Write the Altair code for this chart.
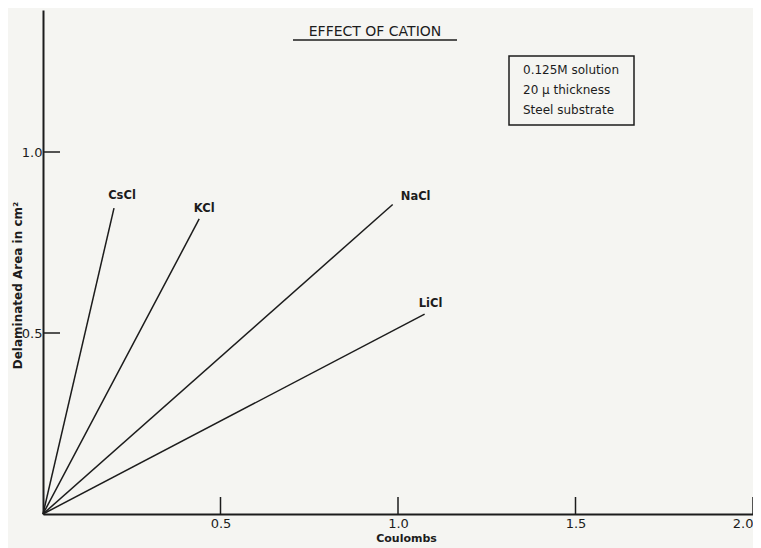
import altair as alt
import pandas as pd

# ---- data ----
salts = ["CsCl", "KCl", "NaCl", "LiCl"]
coulombs_end = [0.20, 0.44, 0.985, 1.075]
area_end = [0.845, 0.815, 0.855, 0.552]
label_dx = [8, 5, 23, 6]      # pixel offsets of the labels from the line ends
label_dy = [-12, -10, -7, -10]

x_ticks = [0.5, 1.0, 1.5, 2.0]
y_ticks = [0.5, 1.0]

title_text = "EFFECT  OF  CATION"
box_lines = ["0.125M solution", "20 \u00b5 thickness", "Steel substrate"]

FONT = "DejaVu Sans"
INK = "#1c1c1c"
BG = "#f5f5f2"

W, H = 710, 504
XMAX, YMAX = 2.0, 504 / 362

rows = []
for s, xe, ye in zip(salts, coulombs_end, area_end):
    rows.append({"salt": s, "q": 0.0, "a": 0.0, "o": 0})
    rows.append({"salt": s, "q": xe, "a": ye, "o": 1})
lines_df = pd.DataFrame(rows)
labels_df = pd.DataFrame({"salt": salts, "q": coulombs_end, "a": area_end,
                          "dx": label_dx, "dy": label_dy})

xs = alt.Scale(domain=[0, XMAX], nice=False, zero=False)
ys = alt.Scale(domain=[0, YMAX], nice=False, zero=False)

xaxis = alt.Axis(values=x_ticks, labelExpr="format(datum.value, '.1f')",
                 tickSize=0, grid=False, domainColor=INK, domainWidth=2,
                 labelFont=FONT, labelFontSize=13, labelColor=INK, labelPadding=3,
                 labelOverlap=False, labelFlush=True,
                 title="Coulombs", titleFont=FONT, titleFontSize=11, titleFontWeight="bold",
                 titleColor=INK, titleX=363, titleY=24, titleBaseline="middle",
                 titleAlign="center")
yaxis = alt.Axis(values=y_ticks, labelExpr="format(datum.value, '.1f')",
                 tickSize=0, grid=False, domainColor=INK, domainWidth=2,
                 labelFont=FONT, labelFontSize=13, labelColor=INK, labelPadding=1,
                 title="Delaminated Area in cm\u00b2", titleFont=FONT, titleFontSize=12,
                 titleFontWeight="bold", titleColor=INK, titleAngle=270,
                 titleX=-26, titleY=275, titleBaseline="middle", titleAlign="center")

lines = alt.Chart(lines_df).mark_line(color=INK, strokeWidth=1.5).encode(
    x=alt.X("q:Q", scale=xs, axis=xaxis),
    y=alt.Y("a:Q", scale=ys, axis=yaxis),
    detail="salt:N",
    order="o:Q",
)

labels = alt.Chart(labels_df).transform_calculate(
    lx=f"datum.q + datum.dx * {XMAX} / {W}",
    ly=f"datum.a - datum.dy * {YMAX} / {H}",
).mark_text(font=FONT, fontSize=11.5, fontWeight="bold", color=INK,
            align="center", baseline="middle").encode(
    x=alt.X("lx:Q", scale=xs),
    y=alt.Y("ly:Q", scale=ys),
    text="salt:N",
)

xt = alt.Chart(pd.DataFrame({"q": x_ticks})).mark_rule(color=INK, strokeWidth=1.5).encode(
    x=alt.X("q:Q", scale=xs), y=alt.value(H), y2=alt.value(H - 17))
yt = alt.Chart(pd.DataFrame({"a": y_ticks})).mark_rule(color=INK, strokeWidth=1.5).encode(
    y=alt.Y("a:Q", scale=ys), x=alt.value(0), x2=alt.value(17))

title = alt.Chart(pd.DataFrame({"t": [title_text]})).mark_text(
    font=FONT, fontSize=14, color=INK, align="center", baseline="middle").encode(
    x=alt.value(332), y=alt.value(22), text="t:N")
underline = alt.Chart(pd.DataFrame({"t": [0]})).mark_rule(color=INK, strokeWidth=1.5).encode(
    x=alt.value(250), x2=alt.value(414), y=alt.value(30))

box = alt.Chart(pd.DataFrame({"t": [0]})).mark_rect(fill=None, stroke=INK, strokeWidth=1.5).encode(
    x=alt.value(466), x2=alt.value(591), y=alt.value(46), y2=alt.value(115))
box_text = alt.Chart(pd.DataFrame({"t": ["\n".join(box_lines)]})).mark_text(
    font=FONT, fontSize=12, color=INK, align="left", baseline="top",
    lineBreak="\n", lineHeight=20).encode(
    x=alt.value(480), y=alt.value(55), text="t:N")

chart = alt.layer(lines, labels, xt, yt, title, underline, box, box_text).properties(
    width=W, height=H,
    autosize=alt.AutoSizeParams(type="none"),
    padding={"left": 35, "top": 2, "right": 0, "bottom": 34},
    background=BG,
).configure_view(stroke=None)

chart.save("out.html", embed_options={"renderer": "svg", "actions": False})
